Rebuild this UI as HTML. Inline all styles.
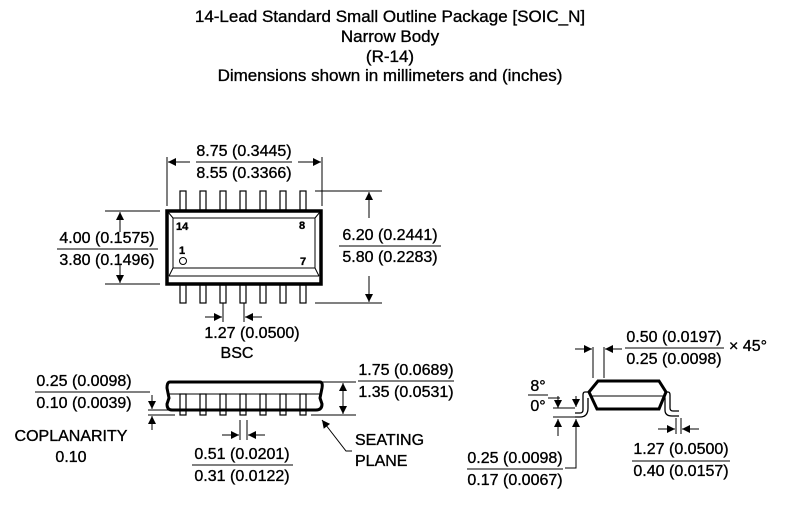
<!DOCTYPE html>
<html><head><style>
html,body{margin:0;padding:0;background:#fff;}
svg{display:block;}
text{font-family:"Liberation Sans",Arial,sans-serif;fill:#000;stroke:#000;stroke-width:0.35;}
</style></head><body>
<svg width="790" height="514" viewBox="0 0 790 514" xmlns="http://www.w3.org/2000/svg">
<defs>
<marker id="a" viewBox="0 0 10 10" refX="10" refY="5" markerWidth="14" markerHeight="8" markerUnits="userSpaceOnUse" orient="auto"><path d="M0,0 L10,5 L0,10 z" fill="#000"/></marker>
</defs>
<g font-size="17" text-anchor="middle">
<text x="390" y="22">14-Lead Standard Small Outline Package [SOIC_N]</text>
<text x="390" y="42">Narrow Body</text>
<text x="390" y="62">(R-14)</text>
<text x="390" y="81">Dimensions shown in millimeters and (inches)</text>
</g>
<g stroke="#000" fill="none" stroke-width="1">
<g stroke-width="1.2">
<rect x="180" y="191" width="6" height="19"/><rect x="200" y="191" width="6" height="19"/><rect x="220" y="191" width="6" height="19"/><rect x="240" y="191" width="6" height="19"/><rect x="260" y="191" width="6" height="19"/><rect x="280" y="191" width="6" height="19"/><rect x="300" y="191" width="6" height="19"/>
<rect x="180" y="285" width="6" height="18"/><rect x="200" y="285" width="6" height="18"/><rect x="220" y="285" width="6" height="18"/><rect x="240" y="285" width="6" height="18"/><rect x="260" y="285" width="6" height="18"/><rect x="280" y="285" width="6" height="18"/><rect x="300" y="285" width="6" height="18"/>
</g>
<rect x="167" y="211" width="154" height="73" stroke-width="3.5"/>
<path d="M173,218 H315 V268 H173 Z M173,218 L168,212 M315,218 L320,212 M173,268 L169,276 M315,268 L319,276 M169,276 H319"/>
<circle cx="183" cy="261" r="3.5"/>
<path d="M167,157 V206 M322,157 V206"/>
<path d="M190,162 H168" marker-end="url(#a)"/><path d="M298,162 H321" marker-end="url(#a)"/>
<line x1="196" y1="162" x2="292" y2="162"/>
<path d="M315,191 H382 M315,303 H382"/>
<path d="M369,218 V192" marker-end="url(#a)"/><path d="M369,276 V302" marker-end="url(#a)"/>
<line x1="339" y1="246" x2="441" y2="246"/>
<path d="M105,211 H160 M105,284 H160"/>
<path d="M120,232 V212" marker-end="url(#a)"/><path d="M120,264 V283" marker-end="url(#a)"/>
<line x1="57" y1="249" x2="158" y2="249"/>
<path d="M223,303 V322 M244,303 V322"/>
<path d="M205,317 H222" marker-end="url(#a)"/><path d="M262,317 H245" marker-end="url(#a)"/>
<g stroke-width="1.2">
<rect x="180" y="394" width="6" height="21"/><rect x="200" y="394" width="6" height="21"/><rect x="220" y="394" width="6" height="21"/><rect x="240" y="394" width="6" height="21"/><rect x="260" y="394" width="6" height="21"/><rect x="280" y="394" width="6" height="21"/><rect x="300" y="394" width="6" height="21"/>
</g>
<path d="M170,382 H320 Q323,382 322,388 L320,398 L322,404 Q322,410 316,410 H172 Q167,410 167,404 L169,398 L167,388 Q167,382 170,382 Z" stroke-width="3"/>
<line x1="169" y1="394" x2="320" y2="394"/>
<path d="M322,382 H356 M311,415 H356"/>
<path d="M343,398 V383" marker-end="url(#a)"/><path d="M343,398 V414" marker-end="url(#a)"/>
<line x1="358" y1="381" x2="454" y2="381"/>
<path d="M35,392 H150 M148,410 H175 M148,415 H175"/>
<path d="M152,395 V409" marker-end="url(#a)"/><path d="M152,430 V416" marker-end="url(#a)"/>
<path d="M240,420 V440 M247,420 V440"/>
<path d="M222,435 H239" marker-end="url(#a)"/><path d="M265,435 H248" marker-end="url(#a)"/>
<line x1="192" y1="465" x2="293" y2="465"/>
<path d="M352,451 H346 L322,420" marker-end="url(#a)"/>
<path d="M598,381 H659 L666,392 L659,409 H597 L589,392 Z" stroke-width="3"/>
<line x1="591" y1="396" x2="664" y2="396"/>
<path d="M589,392 H585 Q583,392 583,395 V410 Q583,413 580,413 H575 M588,398 V408 Q588,417 580,417 H575" stroke-width="1.3"/>
<path d="M666,392 H668 Q670,392 670,395 V408 Q670,411 673,411 H679 M664,398 H665 V410 Q665,416 672,416 H679" stroke-width="1.3"/>
<path d="M593,347 V378 M604,347 V378"/>
<path d="M575,349 H592" marker-end="url(#a)"/><path d="M622,349 H605" marker-end="url(#a)"/>
<line x1="625" y1="348" x2="724" y2="348"/>
<path d="M676,418 V434 M681,418 V434"/>
<path d="M658,429 H675" marker-end="url(#a)"/><path d="M699,429 H682" marker-end="url(#a)"/>
<line x1="632" y1="461" x2="730" y2="461"/>
<path d="M548,398 H560 M553,408 H575 M553,417 H575"/>
<path d="M558,396 V408" marker-end="url(#a)"/><path d="M558,436 V419" marker-end="url(#a)"/>
<path d="M576,396 V407" marker-end="url(#a)"/><path d="M576,433 V419" marker-end="url(#a)"/>
<path d="M576,420 V468 H565"/>
<line x1="467" y1="469" x2="563" y2="469"/>
<line x1="528" y1="395" x2="548" y2="395"/>
</g>
<g font-size="16" text-anchor="middle">
<text x="244" y="156">8.75 (0.3445)</text>
<text x="244" y="178">8.55 (0.3366)</text>
<text x="390" y="240">6.20 (0.2441)</text>
<text x="390" y="262">5.80 (0.2283)</text>
<text x="107" y="243">4.00 (0.1575)</text>
<text x="107" y="265">3.80 (0.1496)</text>
<text x="252" y="338">1.27 (0.0500)</text>
<text x="237" y="358">BSC</text>
<text x="406" y="375">1.75 (0.0689)</text>
<text x="406" y="397">1.35 (0.0531)</text>
<text x="84" y="386">0.25 (0.0098)</text>
<text x="84" y="408">0.10 (0.0039)</text>
<text x="71" y="441">COPLANARITY</text>
<text x="71" y="462">0.10</text>
<text x="242" y="459">0.51 (0.0201)</text>
<text x="242" y="481">0.31 (0.0122)</text>
<text x="355" y="445" text-anchor="start">SEATING</text>
<text x="355" y="466" text-anchor="start">PLANE</text>
<text x="674" y="342">0.50 (0.0197)</text>
<text x="674" y="364">0.25 (0.0098)</text>
<text x="729" y="351" text-anchor="start">× 45°</text>
<text x="538" y="391">8°</text>
<text x="538" y="411">0°</text>
<text x="515" y="463">0.25 (0.0098)</text>
<text x="515" y="485">0.17 (0.0067)</text>
<text x="681" y="454">1.27 (0.0500)</text>
<text x="681" y="476">0.40 (0.0157)</text>
</g>
<g font-size="11" font-weight="bold">
<text x="176" y="230">14</text>
<text x="299" y="229">8</text>
<text x="179" y="254">1</text>
<text x="300" y="265">7</text>
</g>
</svg>
</body></html>
